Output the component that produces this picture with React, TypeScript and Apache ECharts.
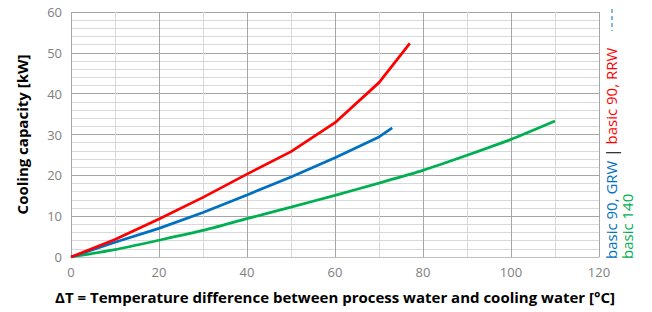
import React, { useEffect, useRef } from "react";
import * as echarts from "echarts";

const xRed = [0, 10, 20, 30, 40, 50, 60, 70, 77];
const yRed = [0, 4.3, 9.3, 14.6, 20.3, 25.8, 32.9, 42.7, 52.3];
const xBlue = [0, 10, 20, 30, 40, 50, 60, 70, 73];
const yBlue = [0, 3.6, 7.0, 10.9, 15.2, 19.6, 24.3, 29.4, 31.6];
const xGreen = [0, 10, 20, 30, 40, 50, 60, 70, 80, 90, 100, 110];
const yGreen = [0, 1.8, 4.1, 6.5, 9.4, 12.2, 15.1, 18.1, 21.2, 24.9, 28.8, 33.3];

const xAxisName = "ΔT = Temperature difference between process water and cooling water [°C]";
const yAxisName = "Cooling capacity [kW]";
const legendBlue = "basic 90, GRW";
const legendRed = "basic 90, RRW";
const legendGreen = "basic 140";

const FONT = "Open Sans";

function pairs(xs: number[], ys: number[]) {
  return xs.map((x, i) => [x, ys[i]]);
}

export default function App() {
  const ref = useRef<HTMLDivElement>(null);
  useEffect(() => {
    if (!ref.current) return;
    const chart = echarts.init(ref.current, undefined, { renderer: "svg" });
    const major = "#a6a6a6";
    const minor = "#d9d9d9";
    chart.setOption({
      animation: false,
      backgroundColor: "#ffffff",
      grid: { left: 71, right: 53, top: 12, bottom: 55 },
      xAxis: {
        type: "value",
        min: 0,
        max: 120,
        interval: 20,
        name: xAxisName,
        nameLocation: "middle",
        nameGap: 32,
        nameTextStyle: { fontFamily: FONT, fontWeight: "bold", fontSize: 15, color: "#000" },
        axisLine: { show: true, lineStyle: { color: "#bfbfbf" } },
        axisTick: { show: false },
        axisLabel: { color: "#808080", fontFamily: FONT, fontSize: 13, margin: 8 },
        splitLine: { show: true, lineStyle: { color: major, width: 1 } },
        minorTick: { show: false, splitNumber: 2 },
        minorSplitLine: { show: true, lineStyle: { color: minor, width: 1 } },
      },
      yAxis: {
        type: "value",
        min: 0,
        max: 60,
        interval: 10,
        name: yAxisName,
        nameLocation: "middle",
        nameGap: 42,
        nameTextStyle: { fontFamily: FONT, fontWeight: "bold", fontSize: 15, color: "#000" },
        axisLine: { show: false },
        axisTick: { show: false },
        axisLabel: { color: "#808080", fontFamily: FONT, fontSize: 13, margin: 9 },
        splitLine: { show: true, lineStyle: { color: major, width: 1 } },
        minorTick: { show: false, splitNumber: 5 },
        minorSplitLine: { show: true, lineStyle: { color: minor, width: 1 } },
      },
      series: [
        {
          type: "line",
          data: pairs(xGreen, yGreen),
          symbol: "none",
          smooth: 0.2,
          lineStyle: { color: "#00b050", width: 2.75 },
        },
        {
          type: "line",
          data: pairs(xBlue, yBlue),
          symbol: "none",
          lineStyle: { color: "#0070c0", width: 2.75 },
        },
        {
          type: "line",
          data: pairs(xRed, yRed),
          symbol: "none",
          lineStyle: { color: "#ff0000", width: 2.75 },
        },
      ],
      graphic: [
        {
          type: "text",
          x: 611,
          y: 259,
          rotation: Math.PI / 2,
          style: {
            text: `{b|${legendBlue}} {k||} {r|${legendRed}}`,
            align: "left",
            verticalAlign: "middle",
            fontFamily: FONT,
            fontSize: 15,
            rich: {
              b: { fill: "#0070c0", fontFamily: FONT, fontSize: 15 },
              k: { fill: "#000000", fontFamily: FONT, fontSize: 15 },
              r: { fill: "#ff0000", fontFamily: FONT, fontSize: 15 },
            },
          },
        },
        {
          type: "text",
          x: 627,
          y: 259,
          rotation: Math.PI / 2,
          style: {
            text: legendGreen,
            align: "left",
            verticalAlign: "middle",
            fontFamily: FONT,
            fontSize: 15,
            fill: "#00b050",
          },
        },
        {
          type: "line",
          shape: { x1: 612, y1: 9, x2: 612, y2: 31 },
          style: { stroke: "#0070c0", lineWidth: 1, lineDash: [4, 3] },
        },
      ],
    });
    return () => chart.dispose();
  }, []);
  return <div ref={ref} style={{ width: 652, height: 312, position: "absolute", left: 0, top: 0 }} />;
}
